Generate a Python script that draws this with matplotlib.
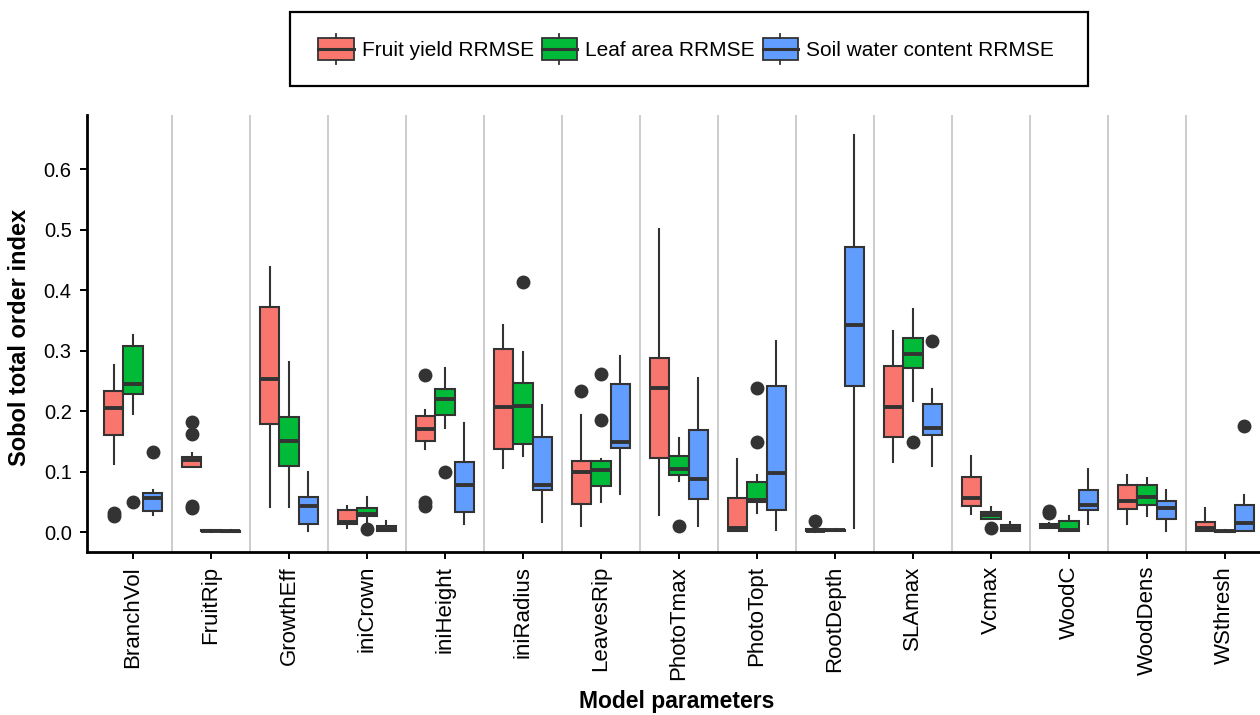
import matplotlib
matplotlib.use("Agg")
import matplotlib.pyplot as plt
import numpy as np
from matplotlib.legend_handler import HandlerBase
from matplotlib.patches import Rectangle
from matplotlib.lines import Line2D

plt.rcParams['font.family'] = ['Liberation Sans', 'DejaVu Sans']

params = ["BranchVol", "FruitRip", "GrowthEff", "iniCrown", "iniHeight", "iniRadius",
          "LeavesRip", "PhotoTmax", "PhotoTopt", "RootDepth", "SLAmax", "Vcmax",
          "WoodC", "WoodDens", "WSthresh"]
series = ["Fruit yield RRMSE", "Leaf area RRMSE", "Soil water content RRMSE"]
colors = ["#F8766D", "#00BA38", "#619CFF"]

# -- Fruit yield RRMSE
fruit_lo  = [0.113, 0.107, 0.041, 0.006, 0.137, 0.106, 0.010, 0.028, 0.002, 0.000, 0.115, 0.030, 0.006, 0.014, 0.001]
fruit_q1  = [0.160, 0.108, 0.179, 0.013, 0.150, 0.137, 0.046, 0.123, 0.002, 0.001, 0.157, 0.043, 0.006, 0.038, 0.001]
fruit_med = [0.205, 0.119, 0.253, 0.017, 0.170, 0.206, 0.099, 0.238, 0.007, 0.002, 0.206, 0.057, 0.010, 0.051, 0.006]
fruit_q3  = [0.234, 0.124, 0.372, 0.036, 0.192, 0.303, 0.117, 0.288, 0.057, 0.005, 0.275, 0.091, 0.014, 0.078, 0.017]
fruit_hi  = [0.277, 0.130, 0.438, 0.043, 0.201, 0.343, 0.193, 0.501, 0.121, 0.006, 0.333, 0.125, 0.015, 0.094, 0.039]
fruit_out = [[0.026, 0.032], [0.182, 0.162, 0.040, 0.043], [], [], [0.260, 0.049, 0.043], [],
             [0.233], [], [], [0.019], [], [], [0.035, 0.031], [], []]

# -- Leaf area RRMSE
leaf_lo  = [0.195, 0.000, 0.041, 0.015, 0.172, 0.125, 0.050, 0.084, 0.032, 0.001, 0.216, 0.022, 0.001, 0.026, 0.000]
leaf_q1  = [0.228, 0.001, 0.110, 0.026, 0.194, 0.146, 0.076, 0.095, 0.049, 0.002, 0.272, 0.022, 0.002, 0.045, 0.000]
leaf_med = [0.245, 0.002, 0.150, 0.030, 0.220, 0.209, 0.102, 0.105, 0.053, 0.003, 0.295, 0.028, 0.004, 0.058, 0.001]
leaf_q3  = [0.307, 0.003, 0.190, 0.040, 0.237, 0.247, 0.118, 0.125, 0.082, 0.004, 0.321, 0.033, 0.018, 0.078, 0.002]
leaf_hi  = [0.325, 0.004, 0.281, 0.058, 0.271, 0.298, 0.121, 0.156, 0.094, 0.005, 0.368, 0.041, 0.026, 0.090, 0.003]
leaf_out = [[0.050], [], [], [0.005], [0.099], [0.413], [0.262, 0.185], [0.010], [0.239, 0.149],
            [], [0.149], [0.006], [], [], []]

# -- Soil water content RRMSE
soil_lo  = [0.028, 0.000, 0.002, 0.001, 0.013, 0.016, 0.063, 0.010, 0.003, 0.006, 0.110, 0.002, 0.013, 0.001, 0.002]
soil_q1  = [0.034, 0.000, 0.013, 0.002, 0.033, 0.070, 0.139, 0.055, 0.037, 0.241, 0.160, 0.002, 0.036, 0.022, 0.002]
soil_med = [0.056, 0.001, 0.043, 0.005, 0.077, 0.077, 0.149, 0.087, 0.098, 0.343, 0.172, 0.007, 0.044, 0.040, 0.015]
soil_q3  = [0.065, 0.002, 0.058, 0.010, 0.116, 0.157, 0.244, 0.168, 0.241, 0.471, 0.212, 0.011, 0.069, 0.052, 0.045]
soil_hi  = [0.069, 0.003, 0.099, 0.018, 0.181, 0.210, 0.291, 0.255, 0.316, 0.657, 0.237, 0.017, 0.105, 0.069, 0.062]
soil_out = [[0.132], [], [], [], [], [], [], [], [], [], [0.316], [], [], [], [0.176]]

groups = [
    (fruit_lo, fruit_q1, fruit_med, fruit_q3, fruit_hi, fruit_out),
    (leaf_lo, leaf_q1, leaf_med, leaf_q3, leaf_hi, leaf_out),
    (soil_lo, soil_q1, soil_med, soil_q3, soil_hi, soil_out),
]

EDGE = "#333333"
W, H = 1260, 715


class BoxKeyHandler(HandlerBase):
    # -- ggplot-like boxplot legend key
    def create_artists(self, legend, orig_handle, xdescent, ydescent,
                       width, height, fontsize, trans):
        x0 = xdescent
        h = height * 0.72
        y0 = -ydescent + (height - h) / 2
        rect = Rectangle((x0, y0), width, h, facecolor=orig_handle.get_facecolor(),
                         edgecolor=EDGE, linewidth=1.3, transform=trans)
        xm = x0 + width / 2
        med = Line2D([x0, x0 + width], [y0 + h / 2] * 2, color=EDGE, lw=2.2, transform=trans)
        top = Line2D([xm, xm], [y0 + h, -ydescent + height], color=EDGE, lw=1.3, transform=trans)
        bot = Line2D([xm, xm], [y0, -ydescent], color=EDGE, lw=1.3, transform=trans)
        return [rect, med, top, bot]


fig = plt.figure(figsize=(12.6, 7.15), dpi=100)
ax = fig.add_axes([87 / W, 1 - 552 / H, 1 - 87 / W, (552 - 115) / H])

x = np.arange(1, len(params) + 1)
offsets = [-0.25, 0.0, 0.25]

# -- separators between parameters
for xv in x[:-1] + 0.5:
    ax.axvline(xv, color="#C8C8C8", lw=1.3, zorder=0)

for g, (lo, q1, med, q3, hi, out) in enumerate(groups):
    stats = []
    for i in range(len(params)):
        stats.append(dict(whislo=lo[i], q1=q1[i], med=med[i], q3=q3[i],
                          whishi=hi[i], fliers=out[i]))
    ax.bxp(stats, positions=x + offsets[g], widths=0.25, patch_artist=True,
           showcaps=False,
           boxprops=dict(facecolor=colors[g], edgecolor=EDGE, linewidth=1.5),
           medianprops=dict(color=EDGE, linewidth=2.8),
           whiskerprops=dict(color=EDGE, linewidth=1.5),
           flierprops=dict(marker="o", markerfacecolor=EDGE, markeredgecolor=EDGE,
                           markersize=9))

ax.set_xlim(0.41, 15.45)
ax.set_ylim(-0.033, 0.6896)
ax.set_yticks([0.0, 0.1, 0.2, 0.3, 0.4, 0.5, 0.6])
ax.set_yticklabels(["0.0", "0.1", "0.2", "0.3", "0.4", "0.5", "0.6"])
ax.set_xticks(x)
ax.set_xticklabels(params, rotation=90, ha="center", va="top")
ax.tick_params(axis="both", colors="black", width=1.4, length=5)
ax.tick_params(axis="y", labelsize=14.5, pad=6)
ax.tick_params(axis="x", labelsize=16, pad=5)
for s in ["top", "right"]:
    ax.spines[s].set_visible(False)
for s in ["left", "bottom"]:
    ax.spines[s].set_linewidth(2.0)
    ax.spines[s].set_color("black")

fig.text(20 / W, 1 - 337 / H, "Sobol total order index", rotation=90, ha="center",
         va="center", fontsize=17, fontweight="bold")
fig.text(677 / W, 1 - 708 / H, "Model parameters", ha="center", va="baseline",
         fontsize=16.5, fontweight="bold")

# -- legend box drawn separately, keys/labels in a frameless legend
fig.patches.append(Rectangle((290 / W, 1 - 86 / H), (1088 - 290) / W, 74 / H,
                             transform=fig.transFigure, facecolor="white",
                             edgecolor="black", linewidth=1.6, zorder=1))
handles = [Rectangle((0, 0), 1, 1, facecolor=c) for c in colors]
leg = fig.legend(handles, series, loc="center", bbox_to_anchor=(686 / W, 1 - 49 / H),
                 ncol=3, fontsize=15, frameon=False,
                 handler_map={Rectangle: BoxKeyHandler()},
                 handlelength=1.7, handleheight=1.8, handletextpad=0.38,
                 columnspacing=0.38, borderpad=0.2)
leg.set_zorder(2)

fig.savefig("out.png", dpi=100)
